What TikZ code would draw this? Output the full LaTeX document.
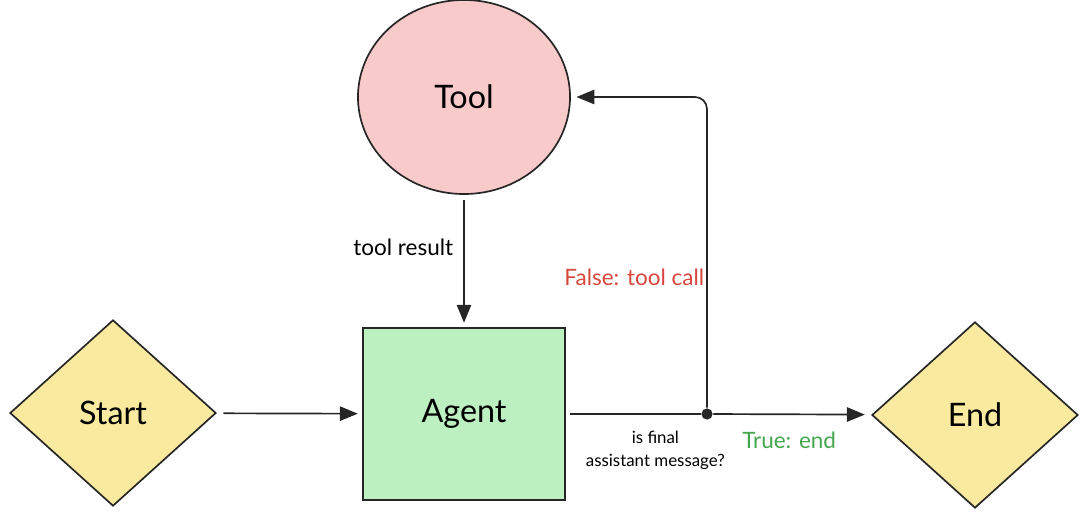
\documentclass[tikz,border=0pt]{standalone}
\usepackage{fontspec}
\setmainfont{Lato}
\usetikzlibrary{shapes.geometric,arrows.meta}
\definecolor{toolpink}{HTML}{F8CACA}
\definecolor{gatesand}{HTML}{FAEA9F}
\definecolor{agentmint}{HTML}{BDF0C0}
\definecolor{falsered}{HTML}{D9463E}
\definecolor{truegreen}{HTML}{44A64F}
\begin{document}
\begin{tikzpicture}[x=0.025cm,y=-0.025cm,line width=1.2pt,draw=black!85,
    >={Triangle[length=4.5mm,width=3.6mm]}]
    \tikzstyle{gate}=[diamond,draw,fill=gatesand,inner sep=0pt,minimum width=5.25cm,minimum height=4.75cm,outer sep=0.14cm,font=\fontsize{23}{27}\selectfont]
    \tikzstyle{tool}=[ellipse,draw,fill=toolpink,inner sep=0pt,minimum width=5.3cm,minimum height=4.85cm,outer sep=0.16cm,font=\fontsize{23}{27}\selectfont]
    \tikzstyle{agent}=[rectangle,draw,fill=agentmint,inner sep=0pt,minimum width=5.05cm,minimum height=4.3cm,outer sep=0.13cm,font=\fontsize{23}{27}\selectfont]
    \tikzstyle{lbl}=[font=\fontsize{16}{19}\selectfont,inner sep=2pt]
    \useasboundingbox (0,0) rectangle (1080,517);

      \node (S) at (113, 413) [gate] {Start};
      \node (A) at (464, 414) [agent] {Agent};
      \node (T) at (464, 97)  [tool] {Tool};
      \node (E) at (975, 415) [gate] {End};
      \node (J) at (707, 414) [circle,fill=black!85,inner sep=0pt,minimum size=2.8mm] {};

      \path[->,draw] (S) edge (A);
      \path[->,draw] (T) edge node [lbl,left,pos=0.38,xshift=-0.18cm] {tool result} (A);
      \path[draw] (A) edge node [lbl,below,align=center,font=\fontsize{12}{16}\selectfont,xshift=0.5cm,yshift=-0.34cm] {is final\\assistant message?} (J);
      \path[->,draw] (J) edge node [lbl,below,pos=0.5,text=truegreen,yshift=-0.35cm] {True: end} (E);
      \draw[->,rounded corners=0.3cm] (J) |- node [lbl,pos=0.21,left,text=falsered,xshift=0.02cm] {False: tool call} (T.east);
  \end{tikzpicture}
\end{document}
